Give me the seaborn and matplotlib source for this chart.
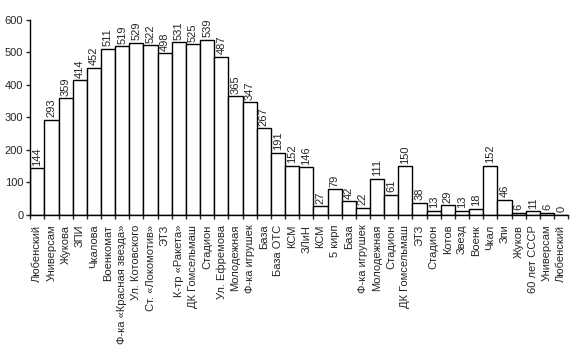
import pandas as pd
import numpy as np
import matplotlib
matplotlib.use('Agg')
import matplotlib.pyplot as plt
import seaborn as sns
from matplotlib.ticker import FixedLocator

stops = ['Любенский', 'Универсам', 'Жукова', 'ЗПИ', 'Чкалова', 'Военкомат',
         'Ф-ка «Красная звезда»', 'Ул. Котовского', 'Ст. «Локомотив»', 'ЭТЗ',
         'К-тр «Ракета»', 'ДК Гомсельмаш', 'Стадион', 'Ул. Ефремова', 'Молодежная',
         'Ф-ка игрушек', 'База', 'База ОТС', 'КСМ', 'ЗЛиН', 'КСМ', '5 кирп', 'База',
         'Ф-ка игрушек', 'Молодежная', 'Стадион', 'ДК Гомсельмаш', 'ЭТЗ', 'Стадион',
         'Котов', 'Звезд', 'Военк', 'Чкал', 'Зпи', 'Жуков', '60 лет СССР',
         'Универсам', 'Любенский']
passengers = [144, 293, 359, 414, 452, 511, 519, 529, 522, 498, 531, 525, 539,
              487, 365, 347, 267, 191, 152, 146, 27, 79, 42, 22, 111, 61, 150,
              38, 13, 29, 13, 18, 152, 46, 6, 11, 6, 0]

df = pd.DataFrame({'pos': range(len(stops)), 'value': passengers})

sns.set_style('white')
plt.rcParams['font.family'] = ['Liberation Sans', 'DejaVu Sans']

fig, ax = plt.subplots(figsize=(5.81, 3.57), dpi=100)
fig.subplots_adjust(left=0.052, right=0.978, bottom=0.398, top=0.944)

sns.barplot(data=df, x='pos', y='value', color='white', edgecolor='black',
            linewidth=1, width=1.0, saturation=1, ax=ax)

# value labels above bars
for i, v in enumerate(passengers):
    ax.text(i, v + 8, str(v), rotation=90, ha='center', va='bottom', fontsize=8)

ax.set_xlim(-0.5, len(stops) - 0.5)
ax.set_ylim(0, 600)
ax.set_yticks(range(0, 601, 100))
ax.set_xticks(range(len(stops)))
ax.set_xticklabels(stops, rotation=90, fontsize=8)
ax.xaxis.set_minor_locator(FixedLocator(np.arange(-0.5, len(stops), 1)))
ax.tick_params(axis='x', which='major', length=0, pad=7)
ax.tick_params(axis='x', which='minor', length=3, width=1, direction='out', bottom=True)
ax.tick_params(axis='y', length=3, width=1, direction='out', left=True, labelsize=8, pad=2)
ax.set_xlabel('')
ax.set_ylabel('')
for s in ['top', 'right']:
    ax.spines[s].set_visible(False)
for s in ['left', 'bottom']:
    ax.spines[s].set_color('black')
    ax.spines[s].set_linewidth(1)

plt.savefig('out.png', dpi=100)
